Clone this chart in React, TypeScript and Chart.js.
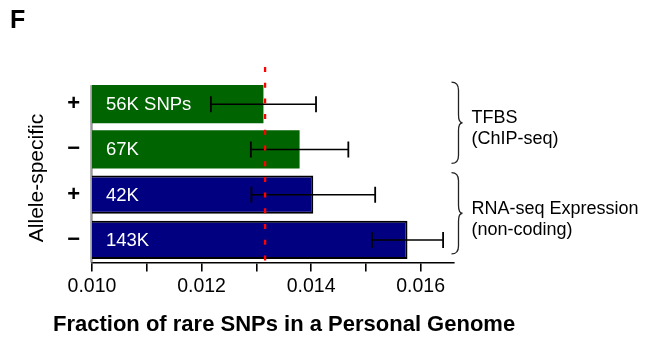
import { useEffect, useRef } from "react";
import { Chart, registerables } from "chart.js";

Chart.register(...registerables);

// Allele-specific status of each row
const alleleLabels = ["+", "\u2212", "+", "\u2212"];
// Number of SNPs behind each bar
const snpCounts = ["56K SNPs", "67K", "42K", "143K"];
// Fraction of rare SNPs and its error
const rareFraction = [0.01313, 0.01379, 0.01404, 0.01576];
const rareFractionErr = [0.00096, 0.00089, 0.00113, 0.00065];
const barColors = ["#006400", "#006400", "#000080", "#000080"];
const barBorderWidths = [0, 0, 2, 2];
// Row groups shown with a brace on the right
const groupRows = [
  [0, 1],
  [2, 3],
];
const groupLabels = [
  ["TFBS", "(ChIP-seq)"],
  ["RNA-seq Expression", "(non-coding)"],
];
// Genome-wide reference fraction (red dashed line)
const genomeAverage = 0.01316;
const xMin = 0.01;
const xMax = 0.0166;
const xStep = 0.001;

const FONT = "'Liberation Sans', Arial, Helvetica, sans-serif";

// Grey left axis line that starts at the top of the first bar
const leftAxis = {
  id: "leftAxis",
  beforeDatasetsDraw(chart: any) {
    const { ctx, chartArea } = chart;
    const first = chart.getDatasetMeta(0).data[0];
    if (!first) return;
    ctx.save();
    ctx.strokeStyle = "#9a9a9a";
    ctx.lineWidth = 2.5;
    ctx.beginPath();
    ctx.moveTo(chartArea.left - 0.5, first.y - first.height / 2);
    ctx.lineTo(chartArea.left - 0.5, chartArea.bottom);
    ctx.stroke();
    ctx.restore();
  },
};

const annotations = {
  id: "annotations",
  afterDatasetsDraw(chart: any) {
    const { ctx, chartArea } = chart;
    const xs = chart.scales.x;
    const bars = chart.getDatasetMeta(0).data;

    ctx.save();
    // error bars
    ctx.strokeStyle = "#000";
    bars.forEach((bar: any, i: number) => {
      const lo = xs.getPixelForValue(rareFraction[i] - rareFractionErr[i]);
      const hi = xs.getPixelForValue(rareFraction[i] + rareFractionErr[i]);
      const y = bar.y;
      ctx.lineWidth = 1.5;
      ctx.beginPath();
      ctx.moveTo(lo, y);
      ctx.lineTo(hi, y);
      ctx.stroke();
      ctx.lineWidth = 1.8;
      ctx.beginPath();
      ctx.moveTo(lo, y - 8);
      ctx.lineTo(lo, y + 8);
      ctx.moveTo(hi, y - 8);
      ctx.lineTo(hi, y + 8);
      ctx.stroke();
    });

    // counts inside the bars
    ctx.fillStyle = "#fff";
    ctx.font = `18.5px ${FONT}`;
    ctx.textAlign = "left";
    ctx.textBaseline = "middle";
    bars.forEach((bar: any, i: number) => {
      ctx.fillText(snpCounts[i], chartArea.left + 14, bar.y + 1);
    });

    // braces and group names
    ctx.strokeStyle = "#222";
    ctx.lineWidth = 1.3;
    ctx.fillStyle = "#000";
    ctx.font = `18px ${FONT}`;
    ctx.textBaseline = "alphabetic";
    groupRows.forEach((rows, g) => {
      const first = bars[rows[0]];
      const last = bars[rows[rows.length - 1]];
      const y0 = first.y - first.height / 2 - 3;
      const y1 = last.y + last.height / 2 - 5;
      const ym = (y0 + y1) / 2;
      const x0 = chartArea.right - 2;
      const xv = x0 + 7;
      const xt = x0 + 11;
      const r = 8;
      ctx.beginPath();
      ctx.moveTo(x0, y0);
      ctx.quadraticCurveTo(xv, y0, xv, y0 + r);
      ctx.lineTo(xv, ym - r);
      ctx.quadraticCurveTo(xv, ym, xt, ym);
      ctx.quadraticCurveTo(xv, ym, xv, ym + r);
      ctx.lineTo(xv, y1 - r);
      ctx.quadraticCurveTo(xv, y1, x0, y1);
      ctx.stroke();
      groupLabels[g].forEach((line, k) => {
        ctx.fillText(line, chartArea.right + 18, ym + 0.5 + k * 21);
      });
    });

    // genome-wide reference line
    const xr = xs.getPixelForValue(genomeAverage);
    ctx.strokeStyle = "#ff0000";
    ctx.lineWidth = 2.3;
    ctx.setLineDash([5, 10.7]);
    ctx.beginPath();
    ctx.moveTo(xr, chartArea.top - 14.5);
    ctx.lineTo(xr, chartArea.bottom + 2.5);
    ctx.stroke();
    ctx.setLineDash([]);

    // axis titles and panel letter
    ctx.fillStyle = "#000";
    ctx.font = `bold 22px ${FONT}`;
    ctx.textAlign = "left";
    ctx.textBaseline = "alphabetic";
    ctx.fillText("Fraction of rare SNPs in a Personal Genome", 53, 331);

    ctx.font = `bold 25px ${FONT}`;
    ctx.fillText("F", 10, 28);

    ctx.save();
    ctx.translate(37, 178);
    ctx.rotate(-Math.PI / 2);
    ctx.font = `21px ${FONT}`;
    ctx.textAlign = "center";
    ctx.textBaseline = "middle";
    ctx.fillText("Allele-specific", 0, 0);
    ctx.restore();

    ctx.restore();
  },
};

export default function App() {
  const canvasRef = useRef<HTMLCanvasElement | null>(null);

  useEffect(() => {
    if (!canvasRef.current) return;
    const chart = new Chart(canvasRef.current, {
      type: "bar",
      data: {
        labels: alleleLabels,
        datasets: [
          {
            data: rareFraction,
            backgroundColor: barColors,
            borderColor: "#000",
            borderWidth: barBorderWidths,
            borderSkipped: false,
            barPercentage: 0.84,
            categoryPercentage: 1,
          },
        ],
      },
      options: {
        indexAxis: "y",
        responsive: false,
        animation: false,
        devicePixelRatio: 1,
        layout: { padding: { top: 81.5, right: 204.5, left: 0, bottom: 0 } },
        plugins: {
          legend: { display: false },
          tooltip: { enabled: false },
        },
        scales: {
          x: {
            type: "linear",
            position: "bottom",
            min: xMin,
            max: xMax,
            afterFit: (scale: any) => {
              scale.height = 75.5;
            },
            ticks: {
              stepSize: xStep,
              includeBounds: false,
              autoSkip: false,
              maxRotation: 0,
              padding: 3,
              color: "#000",
              font: { family: FONT, size: 19.5 },
              callback: (v: any) => {
                const k = Math.round(Number(v) * 1000);
                return k % 2 === 0 ? (k / 1000).toFixed(3) : "";
              },
            },
            grid: {
              drawOnChartArea: false,
              drawTicks: true,
              tickLength: 9,
              color: "#000",
              lineWidth: 1.6,
            },
            border: { display: true, color: "#000", width: 1.6 },
          },
          y: {
            type: "category",
            position: "left",
            afterFit: (scale: any) => {
              scale.width = 92;
            },
            ticks: {
              padding: 12,
              color: "#000",
              font: { family: FONT, size: 22, weight: "bold" },
            },
            grid: { display: false, drawTicks: false },
            border: { display: false },
          },
        },
      },
      plugins: [leftAxis, annotations],
    });
    return () => chart.destroy();
  }, []);

  return (
    <div
      style={{
        position: "absolute",
        left: 0,
        top: 0,
        width: 658,
        height: 338,
        background: "#fff",
      }}
    >
      <canvas ref={canvasRef} width={658} height={338} />
    </div>
  );
}
